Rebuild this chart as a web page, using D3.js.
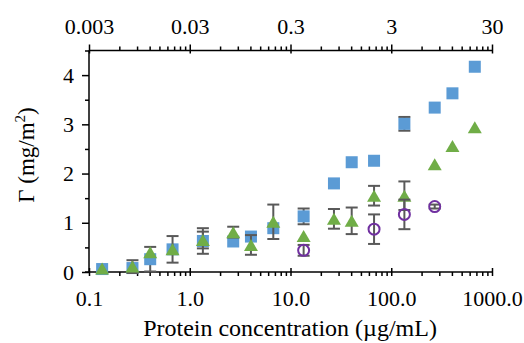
<!DOCTYPE html>
<html><head><meta charset="utf-8">
<script src="https://cdn.jsdelivr.net/npm/d3@7"></script>
<style>
html,body{margin:0;padding:0;background:#fff;}
svg{display:block;}
svg text{font-family:"Liberation Serif","Tinos","Times New Roman","DejaVu Serif",serif;}
</style></head>
<body><svg id="c" width="524" height="343"></svg>
<script>
// ---- data ----
const conc = [0.135, 0.27, 0.405, 0.675, 1.35, 2.7, 4.05, 6.75, 13.5, 27, 40.5, 67.5, 135, 270, 405, 675];
const squareVals = [0.06, 0.08, 0.26, 0.46, 0.63, 0.62, 0.72, 0.89, 1.13, 1.80, 2.23, 2.26, 3.01, 3.34, 3.63, 4.17];
const squareErr  = [0, 0, 0.25, 0, 0.26, 0, 0, 0, 0.16, 0, 0, 0, 0.14, 0, 0, 0];
const triangleVals = [0.07, 0.11, 0.40, 0.46, 0.65, 0.81, 0.55, 1.02, 0.73, 1.08, 1.04, 1.55, 1.55, 2.19, 2.56, 2.94];
const triangleErr  = [0, 0.13, 0, 0.27, 0.17, 0.11, 0.20, 0.35, 0, 0.20, 0.27, 0.20, 0.29, 0, 0, 0];
const circleConc = [13.5, 67.5, 135, 270];
const circleVals = [0.44, 0.87, 1.17, 1.33];
const circleErr  = [0.11, 0.30, 0.30, 0.04];
const bottomTicks = [0.1, 1, 10, 100, 1000];
const bottomLabels = ["0.1", "1.0", "10.0", "100.0", "1000.0"];
const topTicks = [0.003, 0.03, 0.3, 3, 30];
const topLabels = ["0.003", "0.03", "0.3", "3", "30"];
const yTicks = [0, 1, 2, 3, 4];
const yMinor = [0.5, 1.5, 2.5, 3.5, 4.5];
const xTitle = "Protein concentration (\u00B5g/mL)";

// ---- layout ----
const svg = d3.select("#c");
const L = 89, R = 492, T = 50.5, B = 272;
const x = d3.scaleLog().domain([0.1, 1000]).range([L, R]);
const xTop = d3.scaleLog().domain([0.003, 30]).range([L, R]);
const y = d3.scaleLinear().domain([0, 4.5]).range([B, T]);

function minorFor(majors) {
  const out = [];
  majors.slice(0, -1).forEach(m => { for (let k = 2; k <= 9; k++) out.push(m * k); });
  return out;
}
const fs = 22;

// bottom axis
const gB = svg.append("g").attr("transform", `translate(0,${B})`);
gB.call(d3.axisBottom(x).tickValues(minorFor(bottomTicks)).tickSize(4).tickFormat(""));
gB.call(g => g.select(".domain").remove());
const gB2 = svg.append("g").attr("transform", `translate(0,${B})`);
gB2.call(d3.axisBottom(x).tickValues(bottomTicks).tickSize(4).tickSizeOuter(0).tickPadding(14)
  .tickFormat((d, i) => bottomLabels[i]));
gB2.selectAll(".tick line").attr("y1", -4);
gB2.select(".domain").attr("d", `M${L - 4},0H${R}`);

// top axis
const gT = svg.append("g").attr("transform", `translate(0,${T})`);
gT.call(d3.axisTop(xTop).tickValues(minorFor(topTicks)).tickSize(4).tickFormat(""));
gT.call(g => g.select(".domain").remove());
const gT2 = svg.append("g").attr("transform", `translate(0,${T})`);
gT2.call(d3.axisTop(xTop).tickValues(topTicks).tickSize(6).tickSizeOuter(0).tickPadding(11)
  .tickFormat((d, i) => topLabels[i]));
gT2.selectAll(".tick line").attr("y1", 3);
gT2.select(".domain").attr("d", `M${L},0H${R}`);

// left axis
const gL = svg.append("g").attr("transform", `translate(${L},0)`);
gL.call(d3.axisLeft(y).tickValues(yMinor).tickSize(4).tickFormat(""));
gL.call(g => g.select(".domain").remove());
const gL2 = svg.append("g").attr("transform", `translate(${L},0)`);
gL2.call(d3.axisLeft(y).tickValues(yTicks).tickSize(7).tickSizeOuter(0).tickPadding(8).tickFormat(d3.format("d")));
gL2.select(".domain").attr("d", `M0,${T}V${B}`);

svg.selectAll("g").attr("font-family", null);
svg.selectAll(".tick text").attr("font-size", fs).attr("fill", "#000");
svg.selectAll(".tick line, .domain").attr("stroke", "#000").attr("stroke-width", 1.5);

// error bars + markers
const errColor = "#595959";
function errBars(xs, vals, errs) {
  const g = svg.append("g").attr("stroke", errColor).attr("stroke-width", 2).attr("fill", "none");
  xs.forEach((c, i) => {
    const e = errs[i];
    if (!e) return;
    const cx = x(c), y1 = y(vals[i] + e), y2 = y(vals[i] - e);
    g.append("line").attr("x1", cx).attr("x2", cx).attr("y1", y1).attr("y2", y2);
    g.append("line").attr("x1", cx - 6).attr("x2", cx + 6).attr("y1", y1).attr("y2", y1);
    g.append("line").attr("x1", cx - 6).attr("x2", cx + 6).attr("y1", y2).attr("y2", y2);
  });
}

errBars(conc, squareVals, squareErr);
svg.append("g").selectAll("rect").data(conc).join("rect")
  .attr("x", (d) => x(d) - 6).attr("y", (d, i) => y(squareVals[i]) - 6)
  .attr("width", 12).attr("height", 12).attr("fill", "#5B9BD5");

errBars(conc, triangleVals, triangleErr);
const tw = 14, th = 12;
svg.append("g").selectAll("path").data(conc).join("path")
  .attr("d", (d, i) => {
    const cx = x(d), cy = y(triangleVals[i]);
    return `M${cx},${cy - th / 2}L${cx + tw / 2},${cy + th / 2}L${cx - tw / 2},${cy + th / 2}Z`;
  })
  .attr("fill", "#70AD47");

errBars(circleConc, circleVals, circleErr);
svg.append("g").selectAll("circle").data(circleConc).join("circle")
  .attr("cx", d => x(d)).attr("cy", (d, i) => y(circleVals[i])).attr("r", 5.5)
  .attr("fill", "none").attr("stroke", "#7030A0").attr("stroke-width", 2);

// titles
svg.append("text").attr("x", 290).attr("y", 336).attr("text-anchor", "middle")
  .attr("font-size", 24).attr("fill", "#000").text(xTitle);
const yt = svg.append("text").attr("transform", "translate(34,155) rotate(-90)")
  .attr("text-anchor", "middle").attr("font-size", 23).attr("fill", "#000");
yt.append("tspan").text("\u0393 (mg/m");
yt.append("tspan").attr("font-size", 15).attr("dy", -9).text("2");
yt.append("tspan").attr("dy", 9).text(")");
</script></body></html>
